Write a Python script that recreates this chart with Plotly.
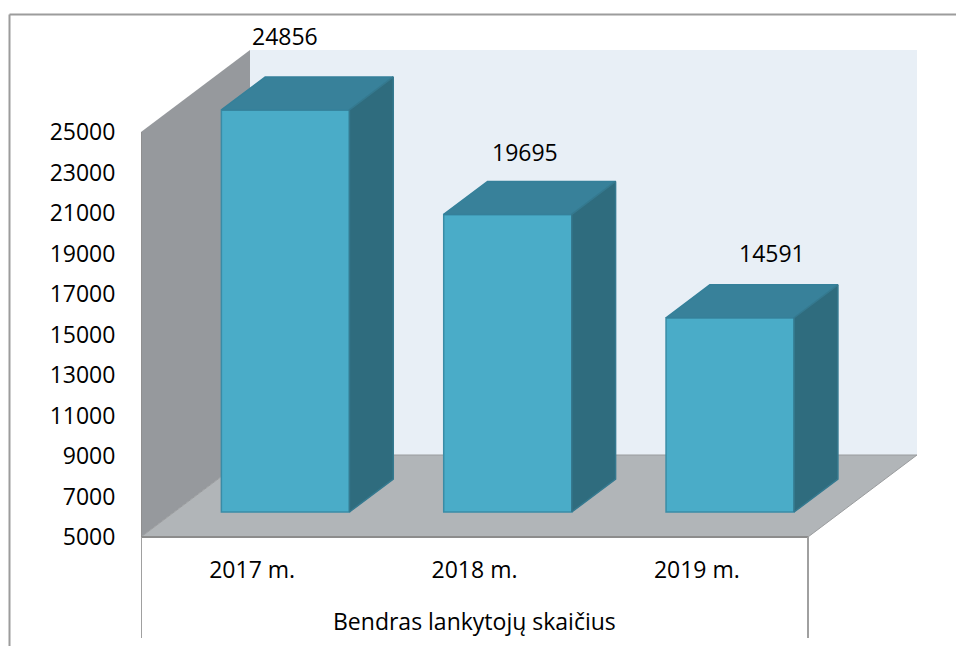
import plotly.graph_objects as go

# --- data ---
CATEGORIES = ["2017 m.", "2018 m.", "2019 m."]
VISITORS = [24856, 19695, 14591]
Y_TICKS = [5000, 7000, 9000, 11000, 13000, 15000, 17000, 19000, 21000, 23000, 25000]
GROUP_LABEL = "Bendras lankytojų skaičius"

# --- layout geometry ---
W, H = 956, 646
PLOT_L, PLOT_R = 141, 917
CAT_PX = 222.33        # pixels per category
PX_PER_UNIT = 0.02025  # pixels per visitor
BASE_PX = 537          # pixel row of the axis minimum
Y_MIN, Y_MAX = 5000, 25000
DEPTH_DX_PX, DEPTH_DY_PX = 109, 82  # oblique shift for full depth
DX = DEPTH_DX_PX / CAT_PX
DY = DEPTH_DY_PX / PX_PER_UNIT
BAR_WIDTH = 0.576
BAR_D0, BAR_D1 = 0.305, 0.707
FONT = "Open Sans"
FONT_SIZE = 23
LABEL_SHIFTS = [(0, 74), (17, 62), (42, 65)]


def proj(cat, value, depth=0.0):
    """Oblique projection of (category position, value, depth) into axis coordinates."""
    return cat + depth * DX, value + depth * DY


def path(points):
    pts = [proj(*p) for p in points]
    return "M " + " L ".join(f"{x},{y}" for x, y in pts) + " Z"


NC = len(CATEGORIES)
fig = go.Figure()

# Real bars for the front faces
fig.add_trace(go.Bar(
    x=[proj(i + 0.5, 0, BAR_D0)[0] for i in range(NC)],
    y=[v - Y_MIN for v in VISITORS],
    base=[proj(0, Y_MIN, BAR_D0)[1]] * NC,
    width=BAR_WIDTH,
    marker=dict(color="#4AACC8", line=dict(color="#3A8CA6", width=1.5)),
    hoverinfo="skip", showlegend=False,
))

# Top and side faces
for i, v in enumerate(VISITORS):
    l, r = i + 0.5 - BAR_WIDTH / 2, i + 0.5 + BAR_WIDTH / 2
    top = [proj(l, v, BAR_D0), proj(r, v, BAR_D0), proj(r, v, BAR_D1), proj(l, v, BAR_D1), proj(l, v, BAR_D0)]
    side = [proj(r, Y_MIN, BAR_D0), proj(r, Y_MIN, BAR_D1), proj(r, v, BAR_D1), proj(r, v, BAR_D0), proj(r, Y_MIN, BAR_D0)]
    for pts, fill, edge in ((top, "#38819A", "#35809A"), (side, "#2F6C7E", "#35798F")):
        fig.add_trace(go.Scatter(
            x=[p[0] for p in pts], y=[p[1] for p in pts],
            mode="lines", fill="toself", fillcolor=fill,
            line=dict(color=edge, width=1.5),
            hoverinfo="skip", showlegend=False,
        ))

# Walls and floor sit beneath the bars
shapes = [
    dict(type="path", xref="x", yref="y", layer="below", fillcolor="#E8EFF6", line=dict(width=0),
         path=path([(0, Y_MIN, 1), (NC, Y_MIN, 1), (NC, Y_MAX, 1), (0, Y_MAX, 1)])),
    dict(type="path", xref="x", yref="y", layer="below", fillcolor="#96999D", line=dict(width=0),
         path=path([(0, Y_MIN, 0), (0, Y_MIN, 1), (0, Y_MAX, 1), (0, Y_MAX, 0)])),
    dict(type="path", xref="x", yref="y", layer="below", fillcolor="#B1B5B8", line=dict(color="#9A9C9E", width=1),
         path=path([(0, Y_MIN, 0), (NC, Y_MIN, 0), (NC, Y_MIN, 1), (0, Y_MIN, 1)])),
]
EDGE = "#8C8C8C"
# front edges of floor and wall
shapes += [
    dict(type="line", xref="x", yref="y", layer="below", x0=0, x1=NC, y0=Y_MIN, y1=Y_MIN, line=dict(color=EDGE, width=2)),
    dict(type="line", xref="x", yref="y", layer="below", x0=0, x1=0, y0=Y_MIN, y1=Y_MAX, line=dict(color=EDGE, width=1.5)),
]
# multi-level category dividers
DIV_BOTTOM = Y_MIN - (638 - BASE_PX) / PX_PER_UNIT
for c in (0, NC):
    shapes.append(dict(type="line", xref="x", yref="y", x0=c, x1=c, y0=Y_MIN, y1=DIV_BOTTOM,
                       line=dict(color="#A0A0A0", width=2)))
# chart-area border (top and left only are visible)
bx = (9.5 - PLOT_L) / (PLOT_R - PLOT_L)
rx = (W - PLOT_L) / (PLOT_R - PLOT_L)
ty = 1 - 14.5 / H
shapes += [
    dict(type="line", xref="paper", yref="paper", x0=bx, x1=rx, y0=ty, y1=ty, line=dict(color="#9C9C9C", width=2)),
    dict(type="line", xref="paper", yref="paper", x0=bx, x1=bx, y0=ty, y1=0, line=dict(color="#9C9C9C", width=2)),
]

annotations = []
for i, (v, (sx, sy)) in enumerate(zip(VISITORS, LABEL_SHIFTS)):
    x, y = proj(i + 0.5, v, BAR_D0)
    annotations.append(dict(x=x, y=y, xref="x", yref="y", text=str(v), showarrow=False,
                            xshift=sx, yshift=sy, font=dict(family=FONT, size=FONT_SIZE, color="#000")))
annotations.append(dict(x=NC / 2, y=Y_MIN - (621 - BASE_PX) / PX_PER_UNIT, xref="x", yref="y",
                        text=GROUP_LABEL, showarrow=False,
                        font=dict(family=FONT, size=FONT_SIZE, color="#000")))

fig.update_layout(
    width=W, height=H, autosize=False,
    margin=dict(l=PLOT_L, r=W - PLOT_R, t=0, b=0),
    paper_bgcolor="white", plot_bgcolor="rgba(0,0,0,0)",
    showlegend=False, shapes=shapes, annotations=annotations,
    font=dict(family=FONT, size=FONT_SIZE, color="#000"),
    xaxis=dict(
        range=[0, (PLOT_R - PLOT_L) / CAT_PX], tickmode="array",
        tickvals=[i + 0.5 for i in range(NC)], ticktext=CATEGORIES,
        anchor="free", position=(H - BASE_PX) / H,
        ticks="outside", ticklen=12, tickcolor="rgba(0,0,0,0)",
        showgrid=False, zeroline=False, showline=False,
    ),
    yaxis=dict(
        range=[Y_MIN - (H - BASE_PX) / PX_PER_UNIT, Y_MIN + BASE_PX / PX_PER_UNIT],
        tickmode="array", tickvals=Y_TICKS, tickformat="d",
        ticks="outside", ticklen=20, tickcolor="rgba(0,0,0,0)",
        showgrid=False, zeroline=False, showline=False,
    ),
)
fig.write_html("out.html", config={"displayModeBar": False},
               post_script="document.body.style.margin='0';document.body.style.overflow='hidden';")
